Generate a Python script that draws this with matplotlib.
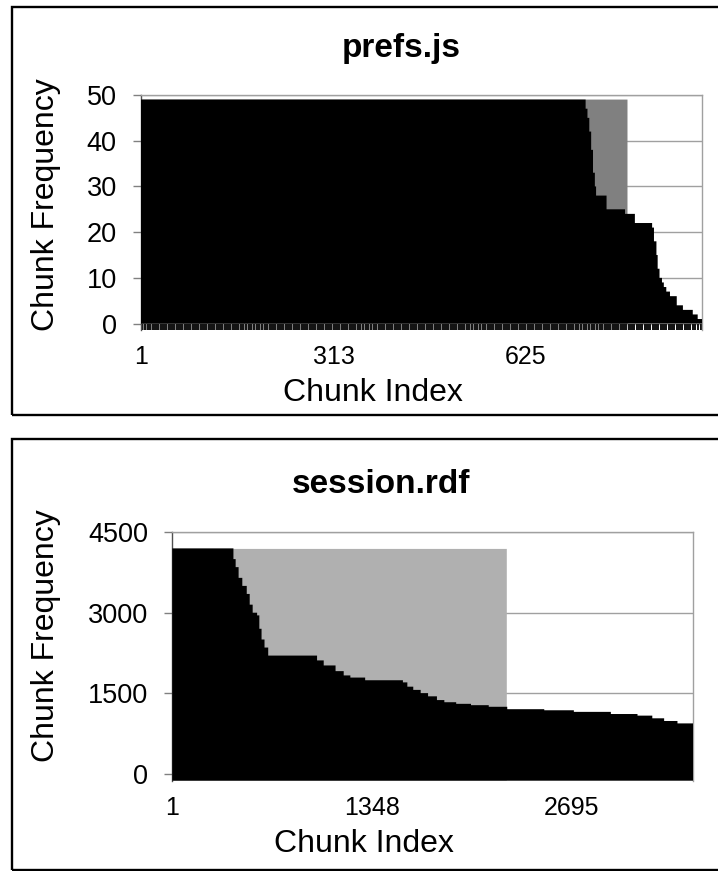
import numpy as np
import matplotlib
matplotlib.use("Agg")
import matplotlib.pyplot as plt
from matplotlib.patches import Rectangle

plt.rcParams['font.family'] = ['Liberation Sans', 'DejaVu Sans']

# prefs.js: sorted chunk frequencies as runs of (value, count)
prefs_values = [49, 47, 45, 42, 38, 33, 30, 28, 25, 24, 22, 21, 18, 15, 12, 10, 9, 8, 7, 6, 4, 3, 2, 1]
prefs_counts = [722, 3, 3, 3, 3, 3, 2, 17, 30, 16, 28, 3, 4, 2, 3, 4, 3, 4, 6, 11, 10, 16, 8, 7]
prefs_gray_value = 49
prefs_gray_count = 790
prefs_base = -1.4
prefs_xticks = [1, 313, 625]
prefs_yticks = [0, 10, 20, 30, 40, 50]

# session.rdf
session_values = [4200, 4000, 3850, 3650, 3500, 3350, 3150, 3000, 2950, 2700, 2500, 2350,
                  2200, 2110, 2016, 1910, 1830, 1790, 1740, 1700, 1620, 1560, 1500, 1440,
                  1370, 1330, 1300, 1275, 1245, 1200, 1180, 1150, 1110, 1080, 1030, 980, 935]
session_counts = [413, 15, 20, 25, 30, 20, 20, 30, 15, 15, 20, 25,
                  330, 45, 80, 55, 45, 100, 255, 30, 40, 50, 50, 60,
                  50, 80, 100, 120, 125, 250, 200, 250, 180, 100, 80, 90, 107]
session_gray_value = 4190
session_gray_count = 2260
session_base = -134
session_xticks = [1, 1348, 2695]
session_yticks = [0, 1500, 3000, 4500]

W, H = 718, 871
fig = plt.figure(figsize=(W / 100, H / 100), dpi=100)


def box(left, top, right, bottom):
    return [left / W, 1 - bottom / H, (right - left) / W, (bottom - top) / H]


def frame(top, bottom):
    fig.add_artist(Rectangle((11.7 / W, 1 - bottom / H), (760 - 11.7) / W, (bottom - top) / H,
                             transform=fig.transFigure, fill=False, lw=1.7, ec='black'))


def panel(rect, values, counts, gray_value, gray_count, gray_color, base, ymax, xticks, yticks, band):
    ax = fig.add_axes(rect)
    heights = np.repeat(values, counts)
    n = len(heights)
    edges = np.arange(n + 1) + 0.5
    ax.stairs(np.full(gray_count, gray_value), edges[:gray_count + 1], baseline=base,
              fill=True, color=gray_color, zorder=2)
    if band:
        idx = np.arange(1, n + 1)
        ax.bar(idx, np.full(n, -base), bottom=base, width=0.85, color='#141414',
               linewidth=0, zorder=2)
        ax.stairs(heights, edges, baseline=0, fill=True, color='black', zorder=3)
    else:
        ax.stairs(heights, edges, baseline=base, fill=True, color='black', zorder=3)
    ax.set_xlim(0.5, n + 0.5)
    ax.set_ylim(base, ymax)
    ax.set_yticks(yticks)
    ax.set_xticks(xticks)
    ax.set_xticklabels([str(t) for t in xticks])
    ax.yaxis.grid(True, color='#a0a0a0', lw=1)
    ax.set_axisbelow(True)
    ax.tick_params(axis='y', length=5.5, width=1, color='#808080', pad=12, labelsize=19.5)
    ax.tick_params(axis='x', length=0, pad=11, labelsize=18)
    ax.spines['bottom'].set_visible(False)
    ax.spines['top'].set_color('#a0a0a0')
    ax.spines['right'].set_color('#a0a0a0')
    ax.spines['left'].set_color('#505050')
    for s in ax.spines.values():
        s.set_linewidth(1)
    return ax


frame(7, 415)
panel(box(141, 95, 702, 330), prefs_values, prefs_counts, prefs_gray_value, prefs_gray_count,
      '#808080', prefs_base, 50, prefs_xticks, prefs_yticks, True)
fig.text(401 / W, 1 - 57 / H, 'prefs.js', ha='center', va='baseline', fontsize=24, weight='bold')
fig.text(373 / W, 1 - 400.7 / H, 'Chunk Index', ha='center', va='baseline', fontsize=23)
fig.text(46 / W, 1 - 205 / H, 'Chunk Frequency', ha='center', va='center', rotation=90, fontsize=23)

frame(439, 870)
panel(box(172.3, 532.3, 693.3, 780.7), session_values, session_counts, session_gray_value,
      session_gray_count, '#b0b0b0', session_base, 4500, session_xticks, session_yticks, False)
fig.text(381 / W, 1 - 493 / H, 'session.rdf', ha='center', va='baseline', fontsize=24, weight='bold')
fig.text(364 / W, 1 - 851.7 / H, 'Chunk Index', ha='center', va='baseline', fontsize=23)
fig.text(46 / W, 1 - 636 / H, 'Chunk Frequency', ha='center', va='center', rotation=90, fontsize=23)

fig.savefig('out.png', dpi=100)
